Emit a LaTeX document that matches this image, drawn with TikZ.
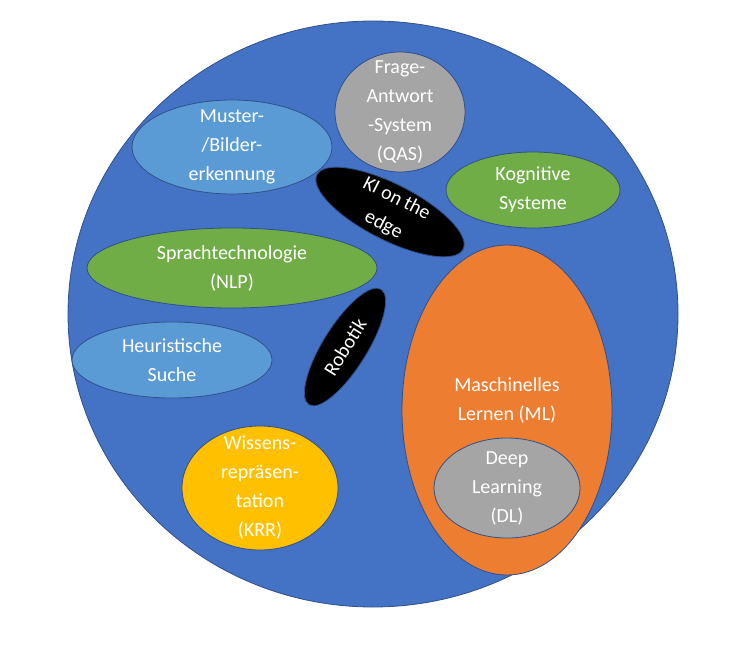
\documentclass[tikz,border=0pt]{standalone}
\usepackage{fontspec}
\setmainfont{Carlito}
\usetikzlibrary{shapes.geometric}
\definecolor{bigblue}{HTML}{4472C4}
\definecolor{lblue}{HTML}{5B9BD5}
\definecolor{cgreen}{HTML}{70AD47}
\definecolor{corange}{HTML}{ED7D31}
\definecolor{cgray}{HTML}{A5A5A5}
\definecolor{cgold}{HTML}{FFC000}
\begin{document}
\begin{tikzpicture}[x=1pt,y=-1pt,
  el/.style={ellipse,draw=bigblue!70!black,line width=0.8pt,inner sep=0pt},
  txt/.style={text=white,align=center,font=\fontsize{20}{29}\selectfont}]
\useasboundingbox (0,0) rectangle (744,650);
\node[el,fill=bigblue,minimum width=610,minimum height=586] (kreis) at (373,314) {};
\node[el,fill=lblue,minimum width=200,minimum height=94] (muster) at (232,147) {};
\node[txt] at (muster) {Muster-\\/Bilder-\\erkennung};
\node[el,fill=cgray,minimum width=130,minimum height=120] (qas) at (400,112) {};
\node[txt] at (qas) {Frage-\\Antwort\\-System\\(QAS)};
\node[el,fill=cgreen,minimum width=174,minimum height=76] (kog) at (533,190) {};
\node[txt] at (kog) {Kognitive\\Systeme};
\node[el,fill=black,minimum width=164,minimum height=56,rotate=-27] (edge) at (390,212) {};
\node[txt,rotate=-27] at (edge) {KI on the\\edge};
\node[el,fill=cgreen,minimum width=290,minimum height=80] (nlp) at (232,268) {};
\node[txt] at (nlp) {Sprachtechnologie\\(NLP)};
\node[el,fill=lblue,minimum width=200,minimum height=76] (heu) at (172,360) {};
\node[txt] at (heu) {Heuristische\\Suche};
\node[el,fill=black,minimum width=136,minimum height=44,rotate=58] (rob) at (345,347) {};
\node[txt,rotate=58] at (rob) {Robotik};
\node[el,fill=corange,minimum width=210,minimum height=330] (ml) at (507,410) {};
\node[txt] at (507,400) {Maschinelles\\Lernen (ML)};
\node[el,fill=cgray,minimum width=146,minimum height=100] (dl) at (507,488) {};
\node[txt] at (dl) {Deep\\Learning\\(DL)};
\node[el,fill=cgold,minimum width=156,minimum height=124] (krr) at (260,488) {};
\node[txt] at (krr) {Wissens-\\repräsen-\\tation\\(KRR)};
\end{tikzpicture}
\end{document}
